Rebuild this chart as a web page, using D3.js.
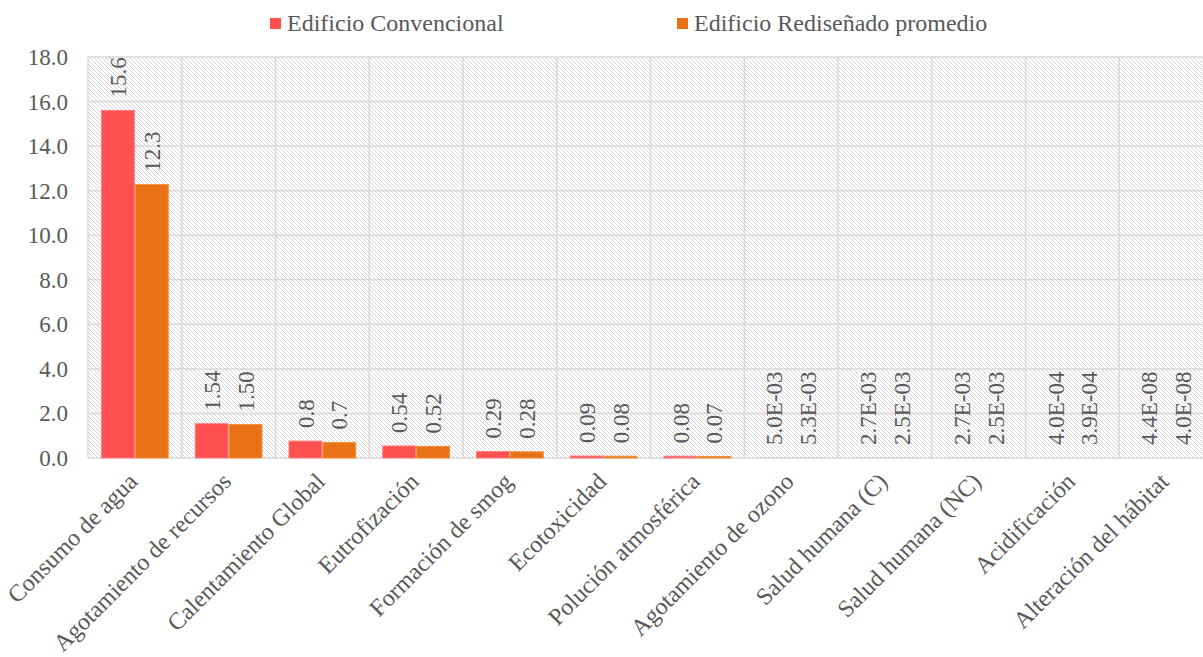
<!DOCTYPE html>
<html>
<head>
<meta charset="utf-8">
<script src="https://cdn.jsdelivr.net/npm/d3@7"></script>
<style>
  body { margin: 0; background: #fff; }
  svg text { font-family: "Liberation Serif", "Times New Roman", Tinos, "DejaVu Serif", serif; fill: #595959; }
</style>
</head>
<body>
<main></main>
<script>
const categories = ['Consumo de agua', 'Agotamiento de recursos', 'Calentamiento Global', 'Eutrofización',
    'Formación de smog', 'Ecotoxicidad', 'Polución atmosférica', 'Agotamiento de ozono',
    'Salud humana (C)', 'Salud humana (NC)', 'Acidificación', 'Alteración del hábitat'];
const series = ['Edificio Convencional', 'Edificio Rediseñado promedio'];
const convencional = [15.6, 1.54, 0.76, 0.54, 0.29, 0.09, 0.08, 5.0e-3, 2.7e-3, 2.7e-3, 4.0e-4, 4.4e-8];
const redisenado = [12.27, 1.50, 0.70, 0.52, 0.28, 0.08, 0.07, 5.3e-3, 2.5e-3, 2.5e-3, 3.9e-4, 4.0e-8];
// label format per category: decimals, or 'e' for scientific
const labelFormats = ['1', '2', '1', '2', '2', '2', '2', 'e', 'e', 'e', 'e', 'e'];
const yTicks = [0, 2, 4, 6, 8, 10, 12, 14, 16, 18];
const colors = ['#FF5050', '#E97116'];
const strokes = ['#FF7E80', '#F0913F'];

const w = 1203, h = 657;
const plotLeft = 88, plotTop = 57, plotBottom = 458, step = 93.75;
const serif = '"Liberation Serif", "Times New Roman", Tinos, "DejaVu Serif", serif';

function fmt(v, f) {
    if (f !== 'e') return v.toFixed(+f);
    const [m, e] = v.toExponential(1).split('e');
    const n = Math.abs(+e);
    return m + 'E' + (+e < 0 ? '-' : '+') + (n < 10 ? '0' + n : n);
}

const svg = d3.select('main').append('svg').attr('width', w).attr('height', h)
    .attr('font-family', serif);

const pat = svg.append('defs').append('pattern')
    .attr('id', 'hatch').attr('patternUnits', 'userSpaceOnUse')
    .attr('width', 4).attr('height', 4);
pat.append('rect').attr('width', 4).attr('height', 4).attr('fill', '#fff');
pat.append('path').attr('d', 'M0,0 L4,4 M-1,3 L1,5 M3,-1 L5,1')
    .attr('stroke', '#d6d6d6').attr('stroke-width', 1);

const x0 = d3.scaleBand().domain(categories).range([plotLeft, plotLeft + step * categories.length]);
const x1 = d3.scaleBand().domain(series).range([13, step - 13]);
const y = d3.scaleLinear().domain([0, 18]).range([plotBottom, plotTop]);

svg.append('rect')
    .attr('x', plotLeft).attr('y', plotTop)
    .attr('width', step * categories.length).attr('height', plotBottom - plotTop)
    .attr('fill', 'url(#hatch)');

// gridlines
svg.append('g').selectAll('line')
    .data(yTicks).enter().append('line')
    .attr('x1', plotLeft).attr('x2', plotLeft + step * categories.length)
    .attr('y1', d => y(d)).attr('y2', d => y(d))
    .attr('stroke', '#d9d9d9').attr('stroke-width', 1.5);
svg.append('g').selectAll('line')
    .data(categories).enter().append('line')
    .attr('x1', d => x0(d)).attr('x2', d => x0(d))
    .attr('y1', plotTop).attr('y2', plotBottom)
    .attr('stroke', '#d9d9d9').attr('stroke-width', 1.5);

// y axis labels
svg.append('g').selectAll('text')
    .data(yTicks).enter().append('text')
    .attr('x', 68).attr('y', d => y(d)).attr('dy', '0.35em')
    .attr('text-anchor', 'end').attr('font-size', 23)
    .text(d => d.toFixed(1));

const rows = categories.map((c, i) => ({
    cat: c, f: labelFormats[i],
    vals: [convencional[i], redisenado[i]]
}));

const groups = svg.append('g').selectAll('g')
    .data(rows).enter().append('g')
    .attr('transform', d => `translate(${x0(d.cat)},0)`);

groups.selectAll('rect')
    .data(d => d.vals.map((v, j) => ({ v, j, s: series[j] })))
    .enter().append('rect')
    .attr('x', d => x1(d.s) + 0.5)
    .attr('width', x1.bandwidth() - 1)
    .attr('y', d => y(d.v))
    .attr('height', d => y(0) - y(d.v))
    .attr('fill', d => colors[d.j])
    .attr('stroke', d => (y(0) - y(d.v)) > 1 ? strokes[d.j] : 'none').attr('stroke-width', 1);

groups.selectAll('text')
    .data(d => d.vals.map((v, j) => ({ v, j, s: series[j], f: d.f })))
    .enter().append('text')
    .attr('transform', d => `translate(${x1(d.s) + x1.bandwidth() / 2},${y(d.v) - 13}) rotate(-90)`)
    .attr('dy', '0.35em').attr('font-size', 23)
    .text(d => fmt(d.v, d.f));

// category labels
svg.append('g').selectAll('text')
    .data(categories).enter().append('text')
    .attr('transform', d => `translate(${x0(d) + step / 2 + 4},483) rotate(-45)`)
    .attr('text-anchor', 'end').attr('font-size', 24)
    .text(d => d);

// legend
const legendX = [270, 677];
const legend = svg.append('g').selectAll('g')
    .data(series).enter().append('g')
    .attr('transform', (d, i) => `translate(${legendX[i]},18)`);
legend.append('rect').attr('width', 11).attr('height', 11)
    .attr('fill', (d, i) => colors[i]);
legend.append('text').attr('x', 17).attr('y', 13).attr('font-size', 24)
    .text(d => d);
</script>
</body>
</html>
